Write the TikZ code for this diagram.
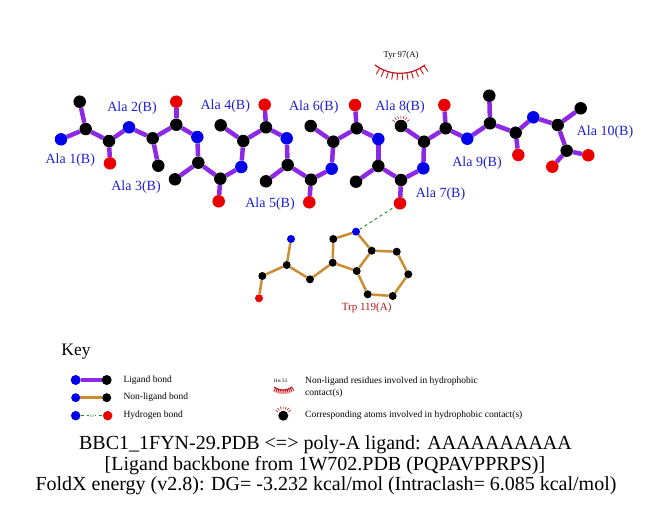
\documentclass[tikz,border=0pt]{standalone}
\usepackage{fontspec}
\setmainfont{Liberation Serif}
\usetikzlibrary{backgrounds}

\definecolor{ligbond}{RGB}{140,40,230}
\definecolor{nonligbond}{RGB}{205,140,50}
\definecolor{atomblue}{RGB}{0,0,235}
\definecolor{atomred}{RGB}{235,0,0}
\definecolor{labblue}{RGB}{30,30,210}
\definecolor{hphobred}{RGB}{200,20,20}
\definecolor{hbgreen}{RGB}{40,140,40}
\definecolor{trpred}{RGB}{180,20,20}

\tikzset{
  cat/.style={circle, fill=black, minimum size=12.5pt, inner sep=0pt},
  nat/.style={cat, fill=atomblue},
  oat/.style={cat, fill=atomred},
  tcat/.style={circle, fill=black, minimum size=8pt, inner sep=0pt},
  tnat/.style={tcat, fill=atomblue},
  toat/.style={tcat, fill=atomred},
  lbond/.style={draw=ligbond, line width=4.5pt},
  nlbond/.style={draw=nonligbond, line width=2.5pt},
  hbline/.style={draw=hbgreen, dashed, line width=1pt},
  hphob/.style={draw=hphobred, line width=0.9pt},
  reslab/.style={text=labblue, font=\fontsize{14}{14}\selectfont, inner sep=0pt},
  keytext/.style={anchor=west, font=\fontsize{9.5}{12}\selectfont, inner sep=0pt, align=left},
  title/.style={font=\fontsize{20}{20}\selectfont, inner sep=0pt}
}

% arc of lashes for a residue in hydrophobic contact
\newcommand{\eyelash}[4]{%
  \draw[hphob, line width=1.2pt] plot[domain=53:127, samples=25]
    ({#1+#3*cos(\x)}, {#2+#3*sin(\x)});
  \foreach \a in {55,61.4,...,125}
    \draw[hphob] ({#1+#3*cos(\a)}, {#2+#3*sin(\a)})
      -- ({#1+(#3+#4)*cos(\a)}, {#2+(#3+#4)*sin(\a)});
}
% small lashes above an atom
\newcommand{\atomlash}[2]{%
  \foreach \a in {215,233,...,325}
    \draw[hphob, line width=0.6pt] (#1) ++(\a:#2) -- ++(\a:3);
}

\begin{document}
\begin{tikzpicture}[x=1pt, y=-1pt]
  \useasboundingbox (0,0) rectangle (651,511);

  % ligand atoms
  \foreach \n/\x/\y in {cb1/79.7/101.7, ca1/85.7/129, c1/109/141,
      ca2/152.7/138.3, cb2/158.3/165.7, c2/176.3/124.7,
      ca3/198.3/162.7, cb3/175/179.3, c3/220.3/178.7,
      ca4/243.3/141, cb4/220.7/125.3, c4/266/127.3,
      ca5/287.7/165, cb5/266/181.3, c5/311/179.7,
      ca6/333.3/141.7, cb6/310.7/126, c6/356.7/128.3,
      ca7/378.3/166, cb7/356/181.7, c7/401/180,
      ca8/424/141.7, cb8/401/126, c8/445.7/128.3,
      ca9/490/123.3, cb9/489.3/95.7, c9/515.7/132.7,
      ca10/557.7/125, cb10/580.7/108.3, c10/566.7/150.7}
    \node[cat] (\n) at (\x,\y) {};
  \foreach \n/\x/\y in {n1/61/139.3, n2/129/127.3, n3/197.3/137,
      n4/241.3/167, n5/286.7/138.3, n6/331.7/168.7, n7/378.3/139,
      n8/423.3/168.3, n9/467.3/138.7, n10/533.3/117.3}
    \node[nat] (\n) at (\x,\y) {};
  \foreach \n/\x/\y in {o1/110/163.3, o2/176.3/101.7, o3/218.7/201.3,
      o4/264.7/104.7, o5/309.3/202.3, o6/355/105, o7/400/203.3,
      o8/444.3/105, o9/518.3/155, o10/552.3/166.7, oxt/588.3/155.3}
    \node[oat] (\n) at (\x,\y) {};

  % Trp 119 atoms
  \foreach \n/\x/\y in {tca/286.7/265, tc/262.3/276, tcb/310/279.3,
      tcg/332.7/262.7, tcd1/333.3/239, tce2/371.7/250.7, tcd2/356.7/271,
      tcz2/396.7/251.7, tch2/408.3/274.3, tcz3/392.7/296, tce3/367.7/294.3}
    \node[tcat] (\n) at (\x,\y) {};
  \node[tnat] (tn) at (291,239) {};
  \node[tnat] (tne1) at (356,231.7) {};
  \node[toat] (to) at (259,298.3) {};

  \begin{scope}[on background layer]
    \foreach \i in {1,...,10} {
      \draw[lbond] (n\i) -- (ca\i);
      \draw[lbond] (ca\i) -- (cb\i);
      \draw[lbond] (ca\i) -- (c\i);
      \draw[lbond] (c\i) -- (o\i);
    }
    \foreach \i/\j in {1/2,2/3,3/4,4/5,5/6,6/7,7/8,8/9,9/10}
      \draw[lbond] (c\i) -- (n\j);
    \draw[lbond] (c10) -- (oxt);
    \foreach \a/\b in {tn/tca, tca/tc, tc/to, tca/tcb, tcb/tcg, tcg/tcd1,
        tcd1/tne1, tne1/tce2, tce2/tcd2, tcd2/tcg, tce2/tcz2, tcz2/tch2,
        tch2/tcz3, tcz3/tce3, tce3/tcd2}
      \draw[nlbond] (\a) -- (\b);
  \end{scope}
  \draw[hbline] (tne1) -- (o7);

  % residue labels
  \node[reslab] (lab1) at (70.3,160) {Ala 1(B)};
  \node[reslab] (lab2) at (132,108.3) {Ala 2(B)};
  \node[reslab] (lab3) at (136,186.7) {Ala 3(B)};
  \node[reslab] (lab4) at (225.3,105.7) {Ala 4(B)};
  \node[reslab] (lab5) at (270,204.3) {Ala 5(B)};
  \node[reslab] (lab6) at (313.8,106.7) {Ala 6(B)};
  \node[reslab] (lab7) at (440.5,194) {Ala 7(B)};
  \node[reslab] (lab8) at (400,106.7) {Ala 8(B)};
  \node[reslab] (lab9) at (477,163) {Ala 9(B)};
  \node[reslab] (lab10) at (605,131.7) {Ala 10(B)};
  \node[text=trpred, font=\fontsize{11}{11}\selectfont, inner sep=0pt]
    (trplab) at (366.7,308.3) {Trp 119(A)};

  % hydrophobic contact
  \node[font=\fontsize{8.7}{9}\selectfont, inner sep=0pt] (tyrlab) at (401,55) {Tyr 97(A)};
  \eyelash{400}{31.5}{41.8}{7}
  \atomlash{cb8}{7.5}

  % key
  \node[font=\fontsize{17.5}{18}\selectfont, inner sep=0pt] (key) at (76,352) {Key};
  \node[nat, minimum size=10pt] (kn1) at (75.7,380) {};
  \node[cat, minimum size=10pt] (kc1) at (106.7,380) {};
  \node[tnat, minimum size=9pt] (kn2) at (75.7,397.7) {};
  \node[tcat, minimum size=9pt] (kc2) at (106.7,397.7) {};
  \node[tnat, minimum size=9.5pt] (kn3) at (75.7,415.7) {};
  \node[toat, minimum size=9.5pt] (ko3) at (107.7,415.7) {};
  \begin{scope}[on background layer]
    \draw[lbond, line width=4pt] (kn1) -- (kc1);
    \draw[nlbond] (kn2) -- (kc2);
  \end{scope}
  \draw[hbline, line width=0.8pt] (kn3) -- node[fill=white, inner sep=0.6pt,
    text=hbgreen, font=\fontsize{4}{4}\selectfont] {3.0} (ko3);
  \node[keytext] (k1) at (123.3,380) {Ligand bond};
  \node[keytext] (k2) at (123.3,397.7) {Non-ligand bond};
  \node[keytext] (k3) at (123.3,415.7) {Hydrogen bond};

  \node[font=\fontsize{5}{5}\selectfont, inner sep=0pt] (hislab) at (280.5,381) {His 53};
  \eyelash{283}{375}{15}{4}
  \node[cat, minimum size=10pt] (khp) at (283.3,415.7) {};
  \atomlash{khp}{6.5}
  \node[keytext] (k4) at (305,387) {Non-ligand residues involved in hydrophobic\\contact(s)};
  \node[keytext] (k5) at (305,415.7) {Corresponding atoms involved in hydrophobic contact(s)};

  % title lines
  \node[title] (t1) at (325.5,445) {BBC1\_1FYN-29.PDB <=> poly-A ligand: AAAAAAAAAA};
  \node[title] (t2) at (325,466) {[Ligand backbone from 1W702.PDB (PQPAVPPRPS)]};
  \node[title] (t3) at (326,486) {FoldX energy (v2.8): DG= -3.232 kcal/mol (Intraclash= 6.085 kcal/mol)};
\end{tikzpicture}
\end{document}
